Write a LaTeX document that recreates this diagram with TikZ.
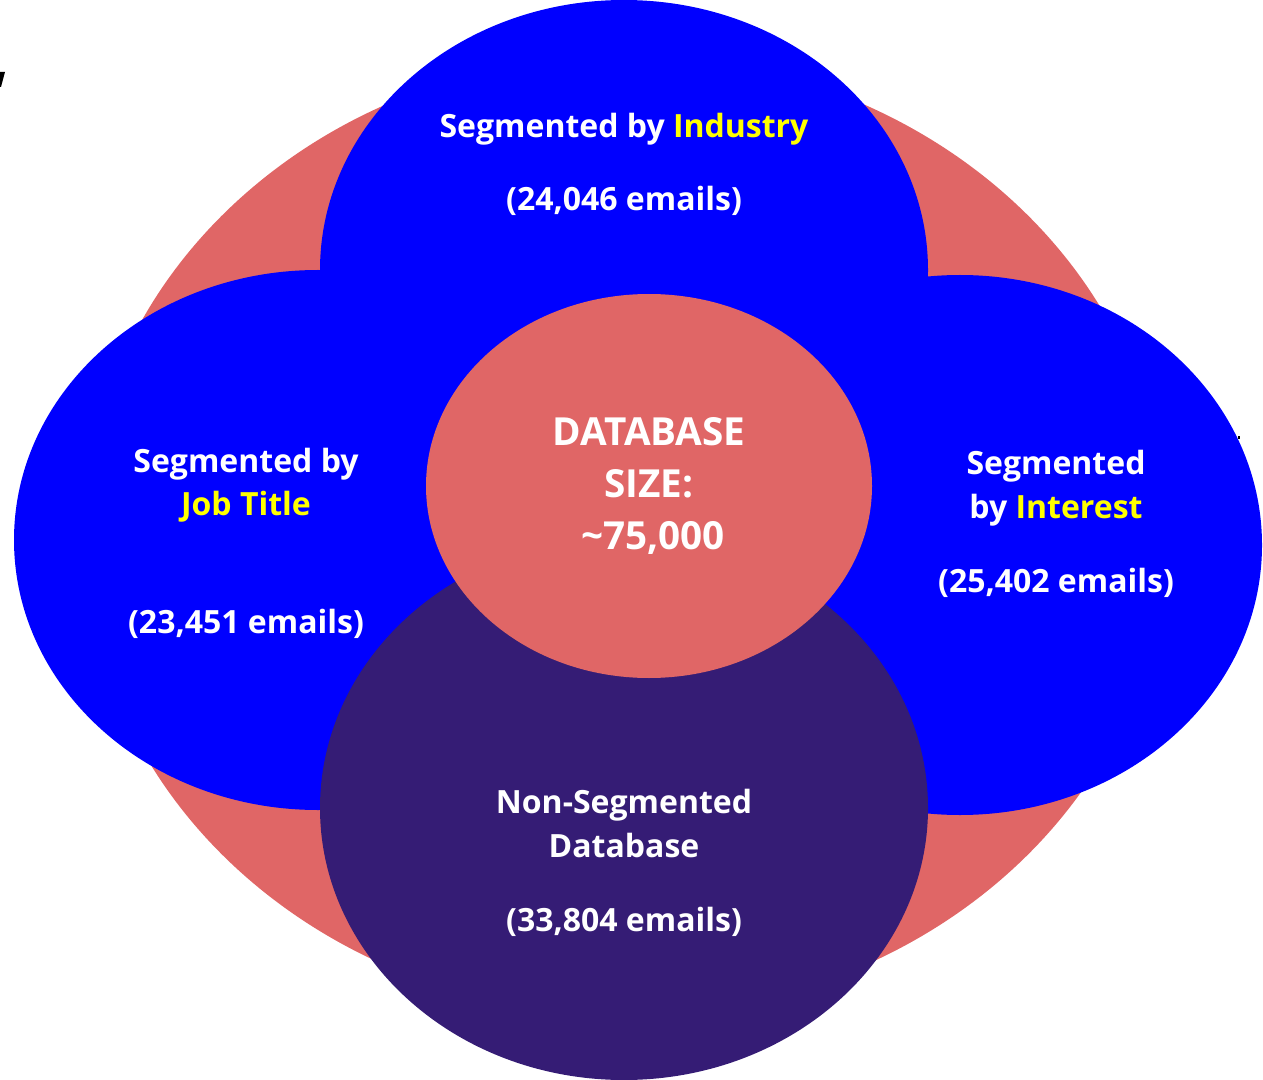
\documentclass[tikz,border=0pt]{standalone}
\usepackage{fontspec}
\setmainfont{Open Sans}
\definecolor{vred}{HTML}{E06666}
\definecolor{vblue}{HTML}{0000FF}
\definecolor{vpurple}{HTML}{351C75}
\definecolor{vyellow}{HTML}{FFFF00}
\tikzset{
  lbl/.style={text=white, font=\fontsize{24}{28}\selectfont\bfseries, align=center, inner sep=0pt, text height=0.72em, text depth=0pt, anchor=center},
  biglbl/.style={lbl, font=\fontsize{29}{32}\selectfont\bfseries}
}
\newcommand{\hlw}[1]{\textcolor{vyellow}{#1}}
\begin{document}
\begin{tikzpicture}[x=0.75pt,y=-0.75pt]
\useasboundingbox (0,0) rectangle (1263,1080);
% outer red ellipse
\fill[vred] (625,535) ellipse [x radius=540, y radius=480];
% blue ellipses
\fill[vblue] (624,270) ellipse [x radius=304, y radius=270];
\fill[vblue] (318,540) ellipse [x radius=304, y radius=270];
\fill[vblue] (960,545) ellipse [x radius=302, y radius=270];
% purple bottom
\fill[vpurple] (624,808) ellipse [x radius=304, y radius=272];
% center red
\fill[vred] (649,486) ellipse [x radius=223, y radius=192];
% small artifacts
\fill[black] (0,72) -- (5,72) -- (1,87) -- (0,87) -- cycle;
\fill[black] (1238,436) rectangle (1240,439);
% texts
\node[lbl] (t1) at (624,133) {Segmented by \hlw{Industry}};
\node[lbl] (t1b) at (624,206) {(24,046 emails)};
\node[lbl] (l1) at (246,468) {Segmented by};
\node[lbl] (l2) at (246,511) {\hlw{Job Title}};
\node[lbl] (l3) at (246,629) {(23,451 emails)};
\node[biglbl] (c1) at (649,441) {DATABASE};
\node[biglbl] (c2) at (649,493) {SIZE:};
\node[biglbl] (c3) at (653,545) {\char`\~75,000};
\node[lbl] (r1) at (1056,470) {Segmented};
\node[lbl] (r2) at (1056,514) {by \hlw{Interest}};
\node[lbl] (r3) at (1056,588) {(25,402 emails)};
\node[lbl] (b1) at (624,809) {Non-Segmented};
\node[lbl] (b2) at (624,853) {Database};
\node[lbl] (b3) at (624,927) {(33,804 emails)};
\end{tikzpicture}
\end{document}
